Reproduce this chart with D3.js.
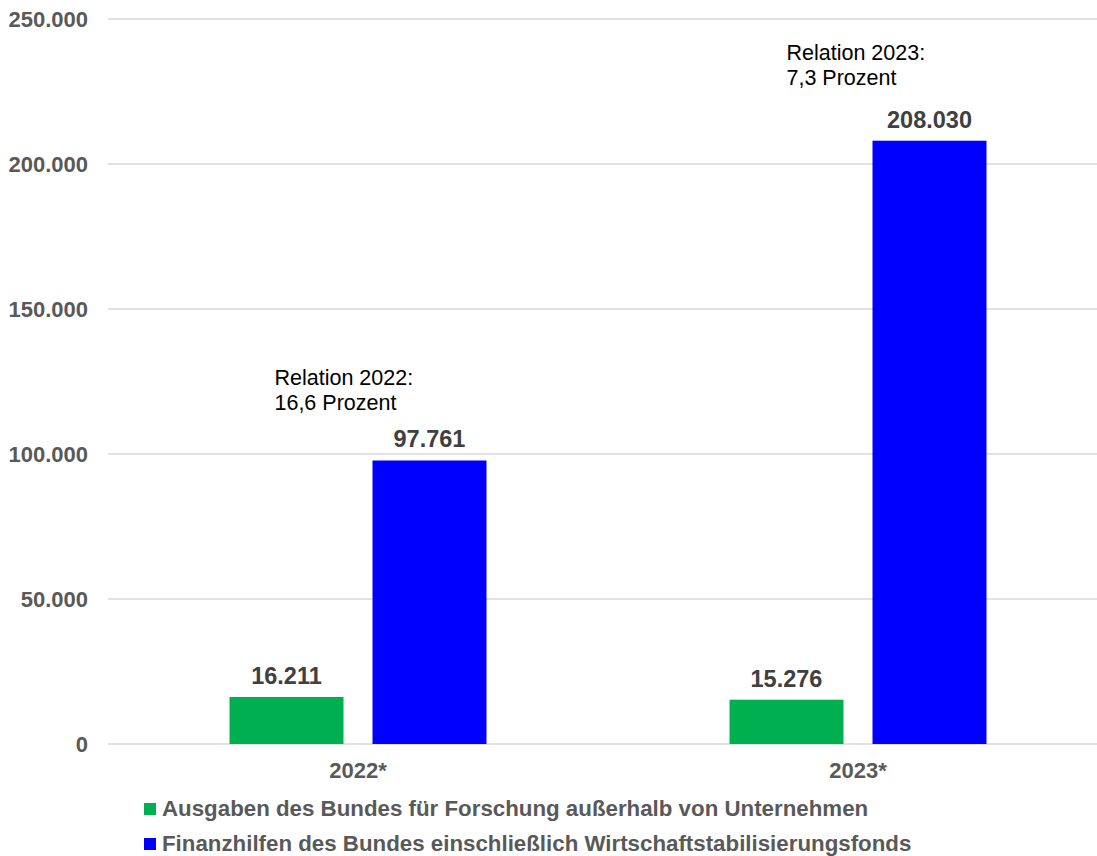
<!DOCTYPE html>
<html>
<head>
<meta charset="utf-8">
<script src="https://cdn.jsdelivr.net/npm/d3@7"></script>
<style>
  html, body { margin: 0; padding: 0; background: #fff; }
  svg { display: block; font-family: "Liberation Sans", Arial, sans-serif; }
</style>
</head>
<body>
<div id="chart"></div>
<script>
const categories = ['2022*', '2023*'];
const seriesNames = [
  'Ausgaben des Bundes für Forschung außerhalb von Unternehmen',
  'Finanzhilfen des Bundes einschließlich Wirtschaftstabilisierungsfonds'
];
const forschung = [16211, 15276];
const finanzhilfen = [97761, 208030];
const yTicks = [0, 50000, 100000, 150000, 200000, 250000];
const relationLines = [
  ['Relation 2022:', '16,6 Prozent'],
  ['Relation 2023:', '7,3 Prozent']
];

const colors = ['#00b050', '#0000ff'];
const width = 1097, height = 856;
const margin = { left: 108, top: 19 };
const plotBottom = 744;

const svg = d3.select('#chart').append('svg')
  .attr('width', width)
  .attr('height', height);

const x0 = d3.scaleBand()
  .domain(categories)
  .range([margin.left, margin.left + 1000]);

const x1 = d3.scaleBand()
  .domain(seriesNames)
  .range([0, x0.bandwidth()])
  .paddingInner(0.2028)
  .paddingOuter(0.8497);

const y = d3.scaleLinear()
  .domain([0, 250000])
  .range([plotBottom, margin.top]);

const fmt = v => d3.format(',')(v).replace(/,/g, '.');

// gridlines
svg.append('g')
  .selectAll('line')
  .data(yTicks)
  .enter().append('line')
  .attr('x1', margin.left)
  .attr('x2', width)
  .attr('y1', d => y(d))
  .attr('y2', d => y(d))
  .attr('stroke', '#d9d9d9')
  .attr('stroke-width', 1.5);

// y labels
svg.append('g')
  .selectAll('text')
  .data(yTicks)
  .enter().append('text')
  .attr('x', 88)
  .attr('y', d => y(d))
  .attr('dy', '0.35em')
  .attr('text-anchor', 'end')
  .attr('font-size', 22)
  .attr('font-weight', 'bold')
  .attr('fill', '#595959')
  .text(d => fmt(d));

const rows = categories.map((c, i) => ({
  cat: c,
  values: [forschung[i], finanzhilfen[i]]
}));

const groups = svg.append('g')
  .selectAll('g')
  .data(rows)
  .enter().append('g')
  .attr('transform', d => `translate(${x0(d.cat)},0)`);

groups.selectAll('rect')
  .data(d => d.values.map((v, j) => ({ name: seriesNames[j], v, j })))
  .enter().append('rect')
  .attr('x', d => x1(d.name))
  .attr('width', x1.bandwidth())
  .attr('y', d => y(d.v))
  .attr('height', d => plotBottom - y(d.v))
  .attr('fill', d => colors[d.j]);

groups.selectAll('text.val')
  .data(d => d.values.map((v, j) => ({ name: seriesNames[j], v, j })))
  .enter().append('text')
  .attr('class', 'val')
  .attr('x', d => x1(d.name) + x1.bandwidth() / 2)
  .attr('y', d => y(d.v) - 13)
  .attr('text-anchor', 'middle')
  .attr('font-size', 23.5)
  .attr('font-weight', 'bold')
  .attr('fill', '#404040')
  .text(d => fmt(d.v));

// relation annotations above the blue bars
const annoOffset = [{ dx: -98, dy: -75 }, { dx: -86, dy: -81 }];
groups.each(function (d, i) {
  const bx = x1(seriesNames[1]);
  const top = y(d.values[1]);
  d3.select(this).append('text')
    .attr('x', bx + annoOffset[i].dx)
    .attr('y', top + annoOffset[i].dy)
    .attr('font-size', 21.5)
    .attr('fill', '#000')
    .selectAll('tspan')
    .data(relationLines[i])
    .enter().append('tspan')
    .attr('x', bx + annoOffset[i].dx)
    .attr('dy', (t, k) => k === 0 ? 0 : 25)
    .text(t => t);
});

// x labels
svg.append('g')
  .selectAll('text')
  .data(categories)
  .enter().append('text')
  .attr('x', d => x0(d) + x0.bandwidth() / 2)
  .attr('y', 778)
  .attr('text-anchor', 'middle')
  .attr('font-size', 22)
  .attr('font-weight', 'bold')
  .attr('fill', '#595959')
  .text(d => d);

// legend
const legend = svg.append('g')
  .selectAll('g')
  .data(seriesNames)
  .enter().append('g')
  .attr('transform', (d, i) => `translate(144,${803 + i * 35})`);

legend.append('rect')
  .attr('width', 12)
  .attr('height', 12)
  .attr('fill', (d, i) => colors[i]);

legend.append('text')
  .attr('x', 18)
  .attr('y', 13)
  .attr('font-size', 22.3)
  .attr('font-weight', 'bold')
  .attr('fill', '#595959')
  .text(d => d);
</script>
</body>
</html>
